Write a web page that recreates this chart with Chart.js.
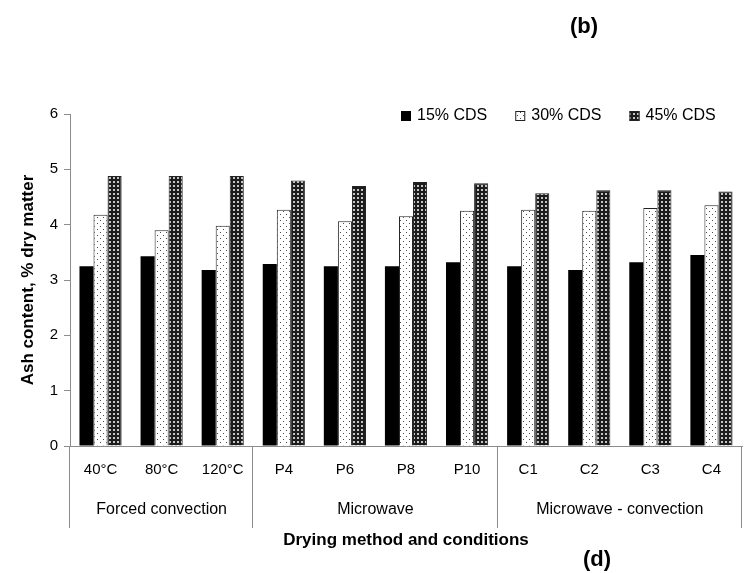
<!DOCTYPE html>
<html>
<head>
<meta charset="utf-8">
<script src="https://cdn.jsdelivr.net/npm/chart.js@4.4.1/dist/chart.umd.min.js"></script>
<style>
  html, body { margin: 0; padding: 0; background: #fff; }
</style>
</head>
<body>
<canvas id="chart" width="744" height="573"></canvas>
<script>
const categories = ['40°C', '80°C', '120°C', 'P4', 'P6', 'P8', 'P10', 'C1', 'C2', 'C3', 'C4'];
const groupNames = ['Forced convection', 'Microwave', 'Microwave - convection'];
const groupSizes = [3, 4, 4];
const seriesNames = ['15% CDS', '30% CDS', '45% CDS'];
const cds15 = [3.25, 3.43, 3.18, 3.29, 3.25, 3.25, 3.32, 3.25, 3.18, 3.32, 3.45];
const cds30 = [4.18, 3.90, 3.98, 4.27, 4.06, 4.15, 4.25, 4.27, 4.25, 4.30, 4.35];
const cds45 = [4.88, 4.88, 4.88, 4.80, 4.70, 4.77, 4.75, 4.57, 4.62, 4.62, 4.60];

const FONT = 'Liberation Sans, Arial, sans-serif';
const AXIS_GREY = '#8c8c8c';

function makePattern(bg, dot, size, dots) {
    const c = document.createElement('canvas');
    c.width = size;
    c.height = size;
    const g = c.getContext('2d');
    g.fillStyle = bg;
    g.fillRect(0, 0, size, size);
    g.fillStyle = dot;
    dots.forEach(d => g.fillRect(d[0], d[1], d[2], d[3]));
    return g.createPattern(c, 'repeat');
}

// sparse dots on white, and light dots on near-black
const dottedFill = makePattern('#ffffff', '#4a4a4a', 6, [[1, 1, 1, 1], [4, 4, 1, 1]]);
const denseFill = makePattern('#1c1c1c', '#c4c4c4', 4, [[1, 1, 2, 2]]);

// legend drawn by hand so it can sit on the top gridline level
const boxLegend = {
    id: 'boxLegend',
    afterDraw(chart) {
        const ctx = chart.ctx;
        ctx.save();
        ctx.font = '16px ' + FONT;
        ctx.textBaseline = 'middle';
        let x = 401;
        const y = 116;
        chart.data.datasets.forEach(ds => {
            ctx.fillStyle = ds.backgroundColor;
            ctx.fillRect(x, y - 5, 10, 10);
            if (ds.borderWidth) {
                ctx.strokeStyle = '#222';
                ctx.lineWidth = 1;
                ctx.strokeRect(x + 0.5, y - 4.5, 9, 9);
            }
            ctx.fillStyle = '#000';
            ctx.fillText(ds.label, x + 16, y);
            x += 16 + ctx.measureText(ds.label).width + 28;
        });
        ctx.restore();
    }
};

// second row of x labels: group names with separators
const groupAxis = {
    id: 'groupAxis',
    afterDraw(chart) {
        const ctx = chart.ctx;
        const xs = chart.scales.x;
        const area = chart.chartArea;
        const yTop = xs.top;
        const yBottom = yTop + 82;
        const bounds = [area.left];
        let idx = 0;
        groupSizes.forEach((n, g) => {
            idx += n;
            if (g < groupSizes.length - 1) {
                bounds.push((xs.getPixelForValue(idx - 1) + xs.getPixelForValue(idx)) / 2);
            }
        });
        bounds.push(area.right);

        ctx.save();
        ctx.strokeStyle = AXIS_GREY;
        ctx.lineWidth = 1;
        bounds.forEach(b => {
            const px = Math.round(b) - 0.5;
            ctx.beginPath();
            ctx.moveTo(px, yTop);
            ctx.lineTo(px, yBottom);
            ctx.stroke();
        });
        ctx.fillStyle = '#000';
        ctx.font = '16px ' + FONT;
        ctx.textAlign = 'center';
        ctx.textBaseline = 'middle';
        groupNames.forEach((name, i) => {
            ctx.fillText(name, (bounds[i] + bounds[i + 1]) / 2, yTop + 64);
        });

        // panel letters
        ctx.font = 'bold 22px ' + FONT;
        ctx.fillText('(b)', 584, 27);
        ctx.fillText('(d)', 597, 560);
        ctx.restore();
    }
};

new Chart(document.getElementById('chart'), {
    type: 'bar',
    data: {
        labels: categories,
        datasets: [
            { label: seriesNames[0], data: cds15, backgroundColor: '#000000', borderWidth: 0 },
            { label: seriesNames[1], data: cds30, backgroundColor: dottedFill, borderColor: '#222', borderWidth: 1 },
            { label: seriesNames[2], data: cds45, backgroundColor: denseFill, borderColor: '#222', borderWidth: 1 }
        ]
    },
    options: {
        responsive: false,
        animation: false,
        devicePixelRatio: 1,
        layout: { padding: { top: 114, right: 2, bottom: 0, left: 0 } },
        datasets: { bar: { categoryPercentage: 0.69, barPercentage: 1 } },
        plugins: {
            legend: { display: false },
            tooltip: { enabled: false }
        },
        scales: {
            x: {
                afterFit: s => { s.height = 127; },
                grid: { display: false, drawTicks: false },
                border: { display: true, color: AXIS_GREY, width: 1 },
                ticks: { color: '#000', font: { family: FONT, size: 15 }, padding: 15, maxRotation: 0, autoSkip: false },
                title: {
                    display: true,
                    text: 'Drying method and conditions',
                    color: '#000',
                    font: { family: FONT, size: 17, weight: 'bold' },
                    padding: { top: 0, bottom: 22 }
                }
            },
            y: {
                min: 0,
                max: 6,
                afterFit: s => { s.width = 70; },
                grid: { display: true, drawOnChartArea: false, drawTicks: true, tickLength: 6, color: AXIS_GREY },
                border: { display: true, color: AXIS_GREY, width: 1 },
                ticks: { stepSize: 1, color: '#000', font: { family: FONT, size: 15 }, padding: 6 },
                title: {
                    display: true,
                    text: 'Ash content, % dry matter',
                    color: '#000',
                    font: { family: FONT, size: 17, weight: 'bold' },
                    padding: { top: 18, bottom: 0 }
                }
            }
        }
    },
    plugins: [boxLegend, groupAxis]
});
</script>
</body>
</html>
